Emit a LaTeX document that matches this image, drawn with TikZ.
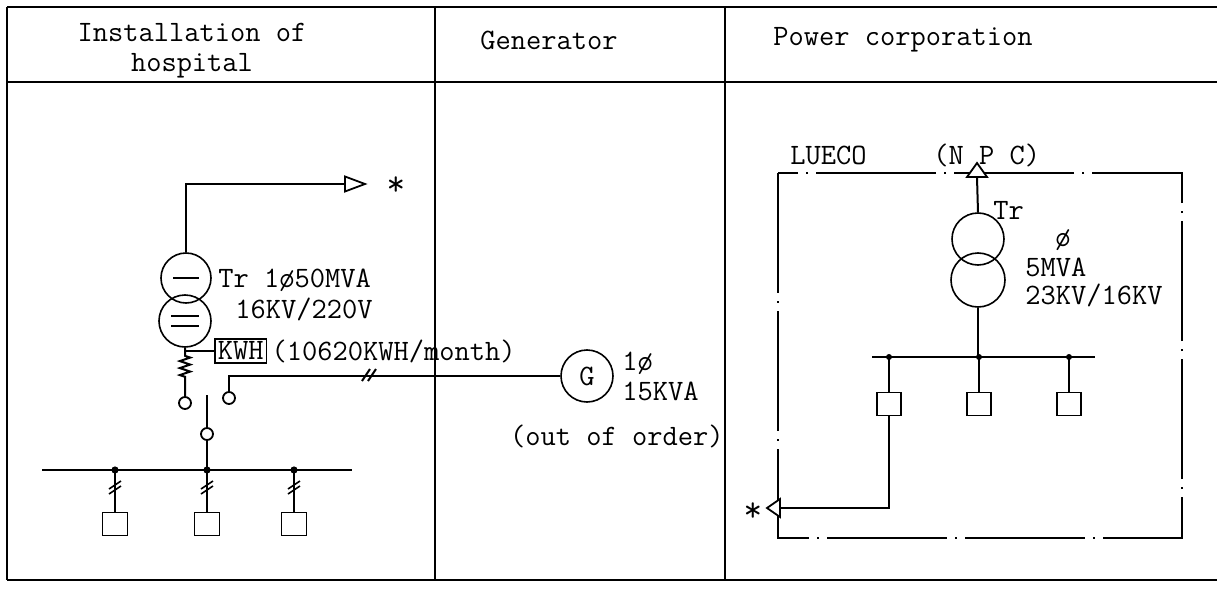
\documentclass[tikz,border=0pt]{standalone}
\usetikzlibrary{decorations.pathmorphing}
\tikzset{
  frame/.style={line width=1.1pt},
  wire/.style={line width=1pt},
  lbl/.style={font=\ttfamily\fontsize{14.8}{15}\selectfont, inner sep=0pt},
  winding/.style={circle, draw, line width=0.8pt, inner sep=0pt},
  contact/.style={circle, draw, line width=0.9pt, inner sep=0pt, minimum size=6pt, fill=white},
  load/.style={rectangle, draw, line width=0.9pt, inner sep=0pt, minimum width=12.5pt, minimum height=11.5pt},
  boundary/.style={line width=0.9pt, dash pattern=on 60pt off 4pt on 1pt off 4pt},
  coil/.style={decorate, decoration={zigzag, segment length=3.5pt, amplitude=2.6pt, pre length=4pt, post length=9.5pt}}
}
\begin{document}
\begin{tikzpicture}[x=0.5pt,y=-0.5pt]
  \useasboundingbox (0,0) rectangle (1217,589);
  % Table
  \draw[frame] (7,7) -- (1217,7);
  \draw[frame] (7,82) -- (1217,82);
  \draw[frame] (7,580) -- (1217,580);
  \draw[frame] (7,7) -- (7,580);
  \draw[frame] (435,7) -- (435,580);
  \draw[frame] (725,7) -- (725,580);
  % Headers
  \node[lbl, align=center] (hdrhosp) at (192,51) {Installation of\\hospital};
  \node[lbl] (hdrgen) at (549,40) {Generator};
  \node[lbl, anchor=west] (hdrpow) at (773,40) {Power corporation};
  % Hospital transformer
  \node[winding, minimum size=25pt] (trA) at (186,278) {};
  \node[winding, minimum size=26pt] (trB) at (185,321) {};
  \draw[wire] ([xshift=-6.5pt]trA.center) -- ([xshift=6.5pt]trA.center);
  \draw[wire] ([xshift=-7pt,yshift=2.5pt]trB.center) -- ([xshift=7pt,yshift=2.5pt]trB.center);
  \draw[wire] ([xshift=-7pt,yshift=-2.5pt]trB.center) -- ([xshift=7pt,yshift=-2.5pt]trB.center);
  \node[lbl, anchor=west] (trAtxt) at (218,280) {Tr 1\o50MVA};
  \node[lbl, anchor=west] (trBtxt) at (235,309) {16KV/220V};
  % Output to NPC
  \coordinate (outH) at (345,184);
  \draw[wire] (trA.north) |- (outH);
  \draw[line width=0.9pt, fill=white] (outH) ++(0,-7.5) -- ++(20,7.5) -- ++(-20,7.5) -- cycle;
  \node[lbl, font=\ttfamily\fontsize{18}{18}\selectfont] (starH) at (396,186) {*};
  % Meter
  \node[contact] (swA) at (185,403) {};
  \draw[wire, coil] (trB.south) -- (swA.north);
  \node[lbl, draw, line width=0.8pt, inner sep=1.5pt, anchor=west] (kwh) at (214,351) {KWH};
  \node[lbl, anchor=west] (kwhnote) at ([xshift=2pt]kwh.east) {(10620KWH/month)};
  \coordinate (tap) at (185,351);
  \draw[wire] (tap) -- (kwh.west);
  % Changeover
  \node[contact] (swB) at (229,398) {};
  \node[contact] (swC) at (207,434) {};
  \coordinate (blade) at (207,395);
  \draw[wire] (blade) -- (swC.north);
  % Generator
  \node[winding, minimum size=26pt] (gen) at (587,376) {};
  \node[lbl] at (gen) {G};
  \draw[wire] (swB.north) |- (gen.west);
  \draw[wire] (362,381) -- (370,369) (368,381) -- (376,369);
  \node[lbl, anchor=west] (genph) at (622,363) {1\o};
  \node[lbl, anchor=west] (genkva) at (622,391) {15KVA};
  \node[lbl, anchor=east] (genstat) at (724,436) {(out of order)};
  % Hospital bus
  \coordinate (busHL) at (42,470);
  \coordinate (busHR) at (352,470);
  \draw[wire] (busHL) -- (busHR);
  \draw[wire] (swC.south) -- (207,470);
  \foreach \x/\n in {115/a,207/b,294/c} {
    \fill (\x,470) circle (1.8pt);
    \node[load] (load\n) at (\x,524) {};
    \draw[wire] (\x,470) -- (load\n.north);
    \draw[line width=0.8pt] (\x-6,494) -- (\x+6,486) (\x-6,489) -- (\x+6,481);
  }
  % Power corporation
  \node[lbl, anchor=west] (lueco) at (790,155) {LUECO};
  \node[lbl, anchor=west] (npctxt) at (933,155) {(N P C)};
  \draw[boundary] (778,173) rectangle (1182,538);
  \coordinate (npc) at (977,177);
  \node[winding, minimum size=26pt] (trC) at (978,239) {};
  \node[winding, minimum size=27pt] (trD) at (978,280) {};
  \draw[wire] (trC.north) -- (npc);
  \draw[line width=0.9pt, fill=white] (npc) ++(-10,0) -- ++(20,0) -- ++(-10,-14) -- cycle;
  \node[lbl, anchor=west] (trCtxt) at (993,210) {Tr};
  \node[lbl, anchor=west] (trCph) at (1055,240) {\o};
  \node[lbl, anchor=west] (trCmva) at (1025,267) {5MVA};
  \node[lbl, anchor=west] (trCkv) at (1025,295) {23KV/16KV};
  \coordinate (busPL) at (872,357);
  \coordinate (busPR) at (1095,357);
  \draw[wire] (busPL) -- (busPR);
  \draw[wire] (trD.south) -- (978,357);
  \foreach \x/\n in {889/d,979/e,1069/f} {
    \fill (\x,357) circle (1.5pt);
    \node[load, minimum width=12pt] (load\n) at (\x,404) {};
    \draw[wire] (\x,357) -- (load\n.north);
  }
  % Return to hospital
  \coordinate (luecoIn) at (780,508);
  \draw[wire] (loadd.south) |- (luecoIn);
  \draw[line width=0.9pt, fill=white] (luecoIn) ++(0,-9) -- ++(-13,9) -- ++(13,9) -- cycle;
  \node[lbl, font=\ttfamily\fontsize{18}{18}\selectfont] (starP) at (753,512) {*};
\end{tikzpicture}
\end{document}
